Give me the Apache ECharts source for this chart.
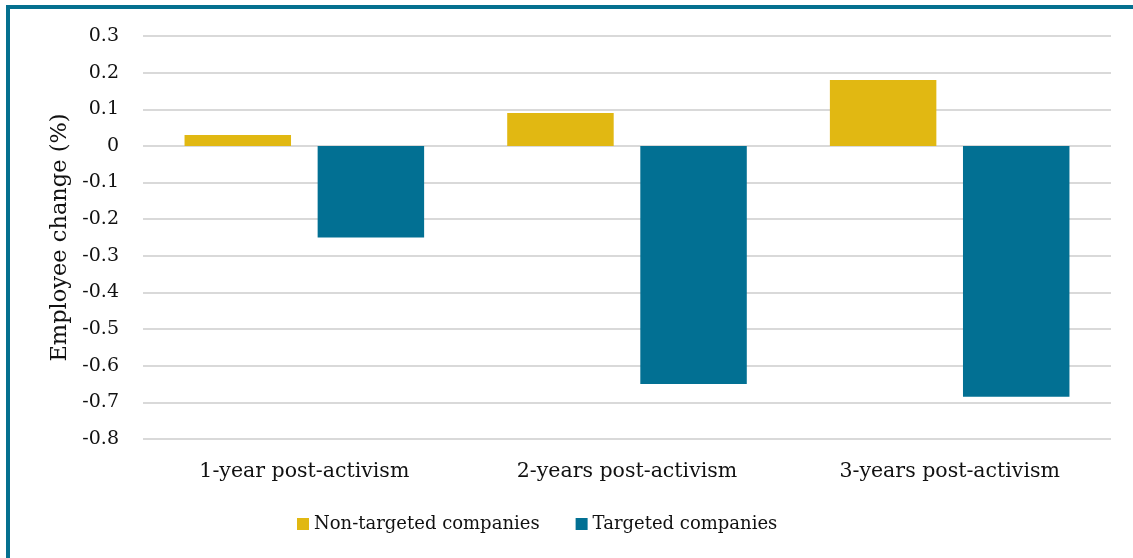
<!DOCTYPE html>
<html><head><meta charset="utf-8">
<script src="https://cdn.jsdelivr.net/npm/echarts@6/dist/echarts.min.js"></script>
<style>html,body{margin:0;padding:0;background:#fff}#c{width:1133px;height:558px}</style>
</head><body><div id="c"></div>
<script>
const categories = ['1-year post-activism', '2-years post-activism', '3-years post-activism'];
const nonTargeted = [0.03, 0.09, 0.18];
const targeted = [-0.25, -0.65, -0.685];
const seriesNames = ['Non-targeted companies', 'Targeted companies'];
const yTicks = { min: -0.8, max: 0.3, interval: 0.1 };

const FONT = 'DejaVu Serif';
const chart = echarts.init(document.getElementById('c'));
chart.setOption({
  animation: false,
  textStyle: { fontFamily: FONT },
  graphic: [{
    type: 'rect', shape: { x: 8, y: 7, width: 1140, height: 570 },
    style: { fill: 'none', stroke: '#05708F', lineWidth: 4 }, z: 100
  }],
  grid: { left: 143, right: 22, top: 36, bottom: 119, containLabel: false },
  legend: {
    bottom: 20, left: 292, itemWidth: 12, itemHeight: 12, itemGap: 36,
    icon: 'rect',
    textStyle: { fontFamily: FONT, fontSize: 18, color: '#111' },
    data: seriesNames
  },
  xAxis: {
    type: 'category', data: categories,
    axisLine: { show: false }, axisTick: { show: false },
    axisLabel: { fontFamily: FONT, fontSize: 20.5, color: '#111', margin: 22 }
  },
  yAxis: {
    type: 'value', min: yTicks.min, max: yTicks.max, interval: yTicks.interval,
    name: 'Employee change (%)', nameLocation: 'middle', nameGap: 70,
    nameTextStyle: { fontFamily: FONT, fontSize: 22.5, color: '#111' },
    axisLine: { show: false }, axisTick: { show: false },
    axisLabel: { fontFamily: FONT, fontSize: 19, color: '#111', margin: 24,
      formatter: v => { const r = Math.round(v * 10) / 10; return r === 0 ? '0' : String(r); } },
    splitLine: { lineStyle: { color: '#D9D9D9', width: 2 } }
  },
  series: [
    { name: seriesNames[0], type: 'bar', data: nonTargeted, barWidth: '33%', barGap: '25%',
      itemStyle: { color: '#E1B812' } },
    { name: seriesNames[1], type: 'bar', data: targeted, barWidth: '33%',
      itemStyle: { color: '#027093' } }
  ]
});
</script></body></html>
